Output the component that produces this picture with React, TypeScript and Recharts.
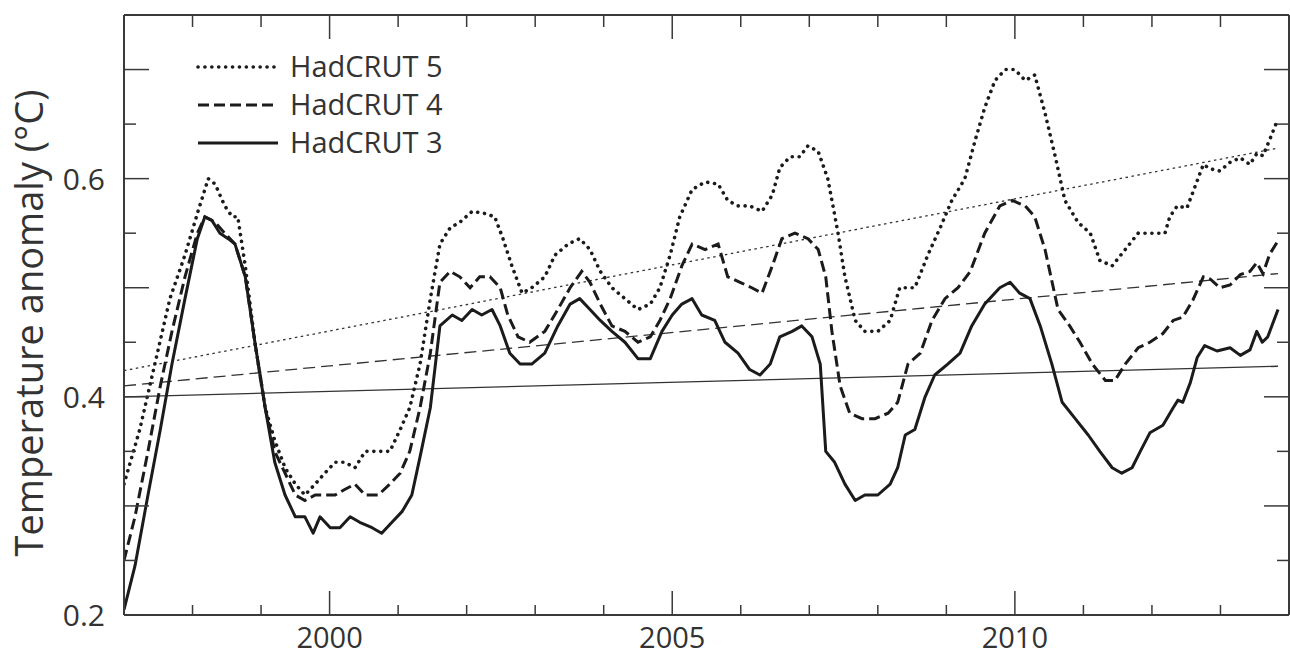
import React from "react";
import { LineChart, Line, XAxis, YAxis, Legend } from "recharts";

// axis ticks and labels
const yearTicks = [1997, 1998, 1999, 2000, 2001, 2002, 2003, 2004, 2005, 2006, 2007, 2008, 2009, 2010, 2011, 2012, 2013, 2014];
const yearLabels = [2000, 2005, 2010];
const anomalyTicks = [0.2, 0.25, 0.3, 0.35, 0.4, 0.45, 0.5, 0.55, 0.6, 0.65, 0.7, 0.75];
const anomalyLabels = [0.2, 0.4, 0.6];
const seriesNames = ["HadCRUT 5", "HadCRUT 4", "HadCRUT 3"];

// [year, anomaly °C] (running means)
const hadcrut5: [number, number][] = [
  [1997.0, 0.32], [1997.23, 0.37], [1997.45, 0.43], [1997.67, 0.49], [1997.89, 0.53], [1998.08, 0.57],
  [1998.23, 0.6], [1998.33, 0.595], [1998.47, 0.575], [1998.58, 0.565], [1998.66, 0.565], [1998.77, 0.52],
  [1998.91, 0.45], [1999.06, 0.39], [1999.2, 0.36], [1999.35, 0.335], [1999.5, 0.32], [1999.64, 0.31],
  [1999.79, 0.32], [1999.93, 0.33], [2000.08, 0.34], [2000.22, 0.34], [2000.37, 0.335], [2000.52, 0.35],
  [2000.71, 0.35], [2000.88, 0.35], [2001.03, 0.37], [2001.17, 0.39], [2001.32, 0.43], [2001.47, 0.49],
  [2001.61, 0.54], [2001.76, 0.555], [2001.9, 0.56], [2002.08, 0.57], [2002.27, 0.568], [2002.41, 0.565],
  [2002.53, 0.545], [2002.66, 0.52], [2002.81, 0.495], [2002.95, 0.5], [2003.14, 0.51], [2003.29, 0.53],
  [2003.48, 0.54], [2003.65, 0.545], [2003.8, 0.535], [2003.95, 0.515], [2004.12, 0.5], [2004.31, 0.49],
  [2004.5, 0.48], [2004.68, 0.485], [2004.82, 0.5], [2004.97, 0.53], [2005.11, 0.565], [2005.29, 0.59],
  [2005.48, 0.597], [2005.67, 0.595], [2005.81, 0.58], [2005.96, 0.575], [2006.13, 0.575], [2006.31, 0.57],
  [2006.46, 0.585], [2006.57, 0.61], [2006.72, 0.62], [2006.86, 0.62], [2006.98, 0.63], [2007.13, 0.625],
  [2007.27, 0.6], [2007.42, 0.55], [2007.52, 0.51], [2007.67, 0.47], [2007.81, 0.46], [2008.0, 0.46],
  [2008.18, 0.47], [2008.32, 0.5], [2008.54, 0.5], [2008.73, 0.53], [2008.91, 0.555], [2009.08, 0.58],
  [2009.27, 0.6], [2009.42, 0.635], [2009.56, 0.665], [2009.71, 0.69], [2009.86, 0.7], [2010.0, 0.7],
  [2010.15, 0.69], [2010.29, 0.695], [2010.44, 0.66], [2010.59, 0.62], [2010.73, 0.58], [2010.92, 0.56],
  [2011.1, 0.55], [2011.24, 0.525], [2011.42, 0.52], [2011.61, 0.535], [2011.8, 0.55], [2011.97, 0.55],
  [2012.19, 0.55], [2012.26, 0.565], [2012.37, 0.575], [2012.51, 0.573], [2012.6, 0.588], [2012.75, 0.613],
  [2012.85, 0.609], [2012.99, 0.607], [2013.14, 0.615], [2013.29, 0.619], [2013.43, 0.613], [2013.53, 0.623],
  [2013.62, 0.621], [2013.72, 0.636], [2013.84, 0.655],
];

const hadcrut4: [number, number][] = [
  [1997.0, 0.25], [1997.16, 0.29], [1997.35, 0.35], [1997.53, 0.41], [1997.7, 0.46], [1997.89, 0.51],
  [1998.07, 0.55], [1998.18, 0.565], [1998.33, 0.56], [1998.47, 0.55], [1998.62, 0.54], [1998.77, 0.51],
  [1998.91, 0.45], [1999.06, 0.39], [1999.2, 0.35], [1999.35, 0.33], [1999.5, 0.31], [1999.64, 0.305],
  [1999.79, 0.31], [1999.93, 0.31], [2000.08, 0.31], [2000.22, 0.315], [2000.37, 0.32], [2000.52, 0.31],
  [2000.71, 0.31], [2000.88, 0.32], [2001.03, 0.33], [2001.17, 0.35], [2001.32, 0.39], [2001.47, 0.44],
  [2001.61, 0.505], [2001.76, 0.515], [2001.9, 0.51], [2002.05, 0.5], [2002.19, 0.51], [2002.34, 0.51],
  [2002.49, 0.5], [2002.6, 0.475], [2002.75, 0.455], [2002.92, 0.45], [2003.14, 0.46], [2003.33, 0.48],
  [2003.51, 0.5], [2003.68, 0.515], [2003.8, 0.505], [2003.95, 0.485], [2004.12, 0.465], [2004.31, 0.46],
  [2004.5, 0.45], [2004.68, 0.455], [2004.82, 0.47], [2004.97, 0.49], [2005.14, 0.52], [2005.29, 0.54],
  [2005.48, 0.535], [2005.67, 0.54], [2005.81, 0.51], [2005.99, 0.505], [2006.16, 0.5], [2006.31, 0.495],
  [2006.46, 0.52], [2006.6, 0.545], [2006.79, 0.55], [2006.98, 0.545], [2007.13, 0.535], [2007.24, 0.51],
  [2007.33, 0.46], [2007.45, 0.41], [2007.59, 0.385], [2007.77, 0.38], [2007.96, 0.38], [2008.15, 0.385],
  [2008.29, 0.395], [2008.44, 0.43], [2008.62, 0.44], [2008.79, 0.47], [2008.98, 0.49], [2009.17, 0.5],
  [2009.35, 0.515], [2009.56, 0.55], [2009.78, 0.575], [2009.96, 0.58], [2010.15, 0.575], [2010.29, 0.565],
  [2010.44, 0.535], [2010.63, 0.48], [2010.8, 0.465], [2010.95, 0.45], [2011.13, 0.43], [2011.32, 0.415],
  [2011.46, 0.415], [2011.61, 0.43], [2011.8, 0.445], [2011.97, 0.45], [2012.16, 0.458], [2012.31, 0.47],
  [2012.45, 0.473], [2012.6, 0.489], [2012.75, 0.51], [2012.85, 0.508], [2012.99, 0.5], [2013.14, 0.5025],
  [2013.29, 0.512], [2013.43, 0.515], [2013.53, 0.523], [2013.62, 0.513], [2013.72, 0.531], [2013.84, 0.543],
];

const hadcrut3: [number, number][] = [
  [1997.0, 0.205], [1997.16, 0.245], [1997.35, 0.31], [1997.53, 0.37], [1997.7, 0.43], [1997.89, 0.49],
  [1998.07, 0.545], [1998.18, 0.565], [1998.28, 0.562], [1998.4, 0.55], [1998.52, 0.545], [1998.62, 0.54],
  [1998.77, 0.51], [1998.91, 0.45], [1999.06, 0.39], [1999.2, 0.34], [1999.35, 0.31], [1999.5, 0.29],
  [1999.64, 0.29], [1999.76, 0.275], [1999.86, 0.29], [2000.01, 0.28], [2000.15, 0.28], [2000.3, 0.29],
  [2000.44, 0.285], [2000.62, 0.28], [2000.76, 0.275], [2000.91, 0.285], [2001.06, 0.295], [2001.2, 0.31],
  [2001.32, 0.345], [2001.47, 0.39], [2001.61, 0.465], [2001.79, 0.475], [2001.93, 0.47], [2002.08, 0.48],
  [2002.22, 0.475], [2002.37, 0.48], [2002.49, 0.465], [2002.63, 0.44], [2002.78, 0.43], [2002.95, 0.43],
  [2003.14, 0.44], [2003.33, 0.465], [2003.51, 0.485], [2003.65, 0.49], [2003.8, 0.48], [2003.95, 0.47],
  [2004.12, 0.46], [2004.31, 0.45], [2004.5, 0.435], [2004.68, 0.435], [2004.85, 0.46], [2005.0, 0.475],
  [2005.14, 0.485], [2005.29, 0.49], [2005.43, 0.475], [2005.62, 0.47], [2005.77, 0.45], [2005.96, 0.44],
  [2006.13, 0.425], [2006.28, 0.42], [2006.43, 0.43], [2006.57, 0.455], [2006.75, 0.46], [2006.89, 0.465],
  [2007.04, 0.455], [2007.16, 0.43], [2007.24, 0.35], [2007.37, 0.34], [2007.52, 0.32], [2007.67, 0.305],
  [2007.81, 0.31], [2008.0, 0.31], [2008.18, 0.32], [2008.29, 0.335], [2008.4, 0.365], [2008.54, 0.37],
  [2008.69, 0.4], [2008.83, 0.42], [2009.02, 0.43], [2009.2, 0.44], [2009.37, 0.465], [2009.56, 0.485],
  [2009.78, 0.5], [2009.93, 0.505], [2010.07, 0.495], [2010.22, 0.49], [2010.37, 0.465], [2010.54, 0.43],
  [2010.69, 0.395], [2010.88, 0.38], [2011.07, 0.365], [2011.24, 0.35], [2011.42, 0.335], [2011.56, 0.33],
  [2011.71, 0.335], [2011.83, 0.35], [2011.97, 0.367], [2012.16, 0.374], [2012.31, 0.39], [2012.38, 0.397],
  [2012.45, 0.395], [2012.56, 0.413], [2012.66, 0.436], [2012.77, 0.447], [2012.95, 0.442], [2013.14, 0.445],
  [2013.29, 0.438], [2013.43, 0.443], [2013.53, 0.46], [2013.61, 0.45], [2013.69, 0.455], [2013.84, 0.48],
];

// linear trends (start / end)
const trend5: [number, number][] = [[1997.0, 0.424], [2013.84, 0.628]];
const trend4: [number, number][] = [[1997.0, 0.41], [2013.84, 0.513]];
const trend3: [number, number][] = [[1997.0, 0.4], [2013.84, 0.428]];

const toPoints = (rows: [number, number][]) => rows.map(([year, v]) => ({ year, v }));

const INK = "#1b1b1b";
const FRAME = "#3a3a3a";
const TEXT = "#333";
const FONT = '"Open Sans", "Noto Sans", sans-serif';

const lineStyles = [
  { dash: "0.1 6.8", width: 3.6, cap: "round" as const },
  { dash: "11 5", width: 3, cap: "butt" as const },
  { dash: undefined, width: 3, cap: "butt" as const },
];

const isMajorYear = (y: number) => y % 5 === 0;
const isMajorAnomaly = (v: number) => Math.round(v * 100) % 10 === 0;

function BottomTick(props: any) {
  const { x, y, payload } = props;
  const len = isMajorYear(payload.value) ? 24 : 10;
  return (
    <g>
      <line x1={x} x2={x} y1={y} y2={y - len} stroke={FRAME} strokeWidth={1.5} />
      {yearLabels.includes(payload.value) && (
        <text x={x} y={y + 33} textAnchor="middle" fontSize={29} fill={TEXT} fontFamily={FONT}>
          {payload.value}
        </text>
      )}
    </g>
  );
}

function TopTick(props: any) {
  const { x, y, payload } = props;
  const len = isMajorYear(payload.value) ? 24 : 12;
  return <line x1={x} x2={x} y1={y} y2={y + len} stroke={FRAME} strokeWidth={1.5} />;
}

function LeftTick(props: any) {
  const { x, y, payload } = props;
  const len = isMajorAnomaly(payload.value) ? 25 : 12;
  const show = anomalyLabels.some((l) => Math.abs(l - payload.value) < 1e-6);
  return (
    <g>
      <line x1={x} x2={x + len} y1={y} y2={y} stroke={FRAME} strokeWidth={1.5} />
      {show && (
        <text x={x - 19} y={y + 11} textAnchor="end" fontSize={30} fill={TEXT} fontFamily={FONT}>
          {payload.value.toFixed(1)}
        </text>
      )}
    </g>
  );
}

function RightTick(props: any) {
  const { x, y, payload } = props;
  const len = isMajorAnomaly(payload.value) ? 25 : 12;
  return <line x1={x} x2={x - len} y1={y} y2={y} stroke={FRAME} strokeWidth={1.5} />;
}

function LegendBox() {
  return (
    <svg width={280} height={130} style={{ display: "block" }}>
      {seriesNames.map((name, i) => {
        const cy = 22 + i * 38;
        const s = lineStyles[i];
        return (
          <g key={name}>
            <line
              x1={8}
              x2={88}
              y1={cy}
              y2={cy}
              stroke={INK}
              strokeWidth={s.width}
              strokeDasharray={s.dash}
              strokeLinecap={s.cap}
            />
            <text x={100} y={cy + 10} fontSize={29} fill={TEXT} fontFamily={FONT}>
              {name}
            </text>
          </g>
        );
      })}
    </svg>
  );
}

function YTitle(props: any) {
  const { viewBox } = props;
  const cx = viewBox.x + 43;
  const cy = viewBox.y + viewBox.height / 2 + 8;
  return (
    <text
      x={cx}
      y={cy}
      transform={`rotate(-90 ${cx} ${cy})`}
      textAnchor="middle"
      fontSize={38}
      fill={TEXT}
      fontFamily={FONT}
    >
      Temperature anomaly (°C)
    </text>
  );
}

export default function App() {
  const axisLine = { stroke: FRAME, strokeWidth: 2 };
  return (
    <div style={{ position: "absolute", left: 0, top: 0, width: 1290, height: 657, background: "#fff", fontFamily: FONT }}>
      <LineChart width={1290} height={657} margin={{ top: 0, right: 0, bottom: 0, left: 0 }}>
        <XAxis
          xAxisId="b"
          dataKey="year"
          type="number"
          domain={[1997, 2014]}
          allowDataOverflow
          ticks={yearTicks}
          interval={0}
          tickSize={0}
          tickMargin={0}
          tick={BottomTick}
          axisLine={axisLine}
          height={42}
        />
        <XAxis
          xAxisId="t"
          orientation="top"
          dataKey="year"
          type="number"
          domain={[1997, 2014]}
          allowDataOverflow
          ticks={yearTicks}
          interval={0}
          tickSize={0}
          tickMargin={0}
          tick={TopTick}
          axisLine={axisLine}
          height={15}
        />
        <YAxis
          yAxisId="l"
          type="number"
          domain={[0.2, 0.75]}
          allowDataOverflow
          ticks={anomalyTicks}
          interval={0}
          tickSize={0}
          tickMargin={0}
          tick={LeftTick}
          axisLine={axisLine}
          width={124}
          label={<YTitle />}
        />
        <YAxis
          yAxisId="r"
          orientation="right"
          type="number"
          domain={[0.2, 0.75]}
          allowDataOverflow
          ticks={anomalyTicks}
          interval={0}
          tickSize={0}
          tickMargin={0}
          tick={RightTick}
          axisLine={axisLine}
          width={1}
        />
        <Legend
          layout="horizontal"
          verticalAlign="middle"
          content={<LegendBox />}
          wrapperStyle={{ left: 190, top: 45, width: 280, height: 130 }}
        />

        {/* thin linear trends */}
        <Line xAxisId="b" yAxisId="l" data={toPoints(trend5)} dataKey="v" stroke="#333" strokeWidth={1.3} strokeDasharray="2.5 3.5" dot={false} isAnimationActive={false} legendType="none" />
        <Line xAxisId="b" yAxisId="l" data={toPoints(trend4)} dataKey="v" stroke="#333" strokeWidth={1.3} strokeDasharray="12 6" dot={false} isAnimationActive={false} legendType="none" />
        <Line xAxisId="b" yAxisId="l" data={toPoints(trend3)} dataKey="v" stroke="#333" strokeWidth={1.3} dot={false} isAnimationActive={false} legendType="none" />

        {/* smoothed series */}
        <Line xAxisId="b" yAxisId="l" data={toPoints(hadcrut5)} dataKey="v" name={seriesNames[0]} type="linear" stroke={INK} strokeWidth={lineStyles[0].width} strokeDasharray={lineStyles[0].dash} strokeLinecap="round" dot={false} isAnimationActive={false} />
        <Line xAxisId="b" yAxisId="l" data={toPoints(hadcrut4)} dataKey="v" name={seriesNames[1]} type="linear" stroke={INK} strokeWidth={lineStyles[1].width} strokeDasharray={lineStyles[1].dash} dot={false} isAnimationActive={false} />
        <Line xAxisId="b" yAxisId="l" data={toPoints(hadcrut3)} dataKey="v" name={seriesNames[2]} type="linear" stroke={INK} strokeWidth={lineStyles[2].width} strokeLinejoin="round" dot={false} isAnimationActive={false} />
      </LineChart>
    </div>
  );
}
